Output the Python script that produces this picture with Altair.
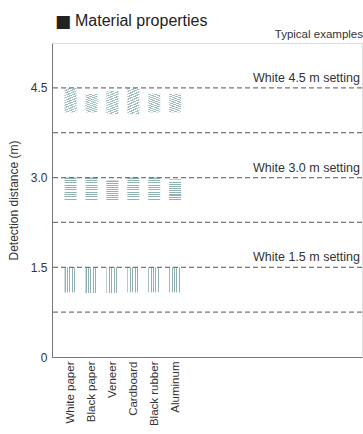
import altair as alt
import pandas as pd

materials = ["White paper", "Black paper", "Veneer", "Cardboard", "Black rubber", "Aluminum"]
settings = [4.5, 3.0, 1.5]
setting_labels = ["White 4.5 m setting", "White 3.0 m setting", "White 1.5 m setting"]
far_45 = [4.50, 4.40, 4.45, 4.50, 4.40, 4.40]
near_45 = [4.09, 4.09, 4.06, 4.06, 4.09, 4.09]
far_30 = [3.00, 3.00, 2.95, 3.00, 3.00, 2.97]
near_30 = [2.61, 2.61, 2.61, 2.61, 2.61, 2.61]
far_15 = [1.50, 1.50, 1.50, 1.50, 1.50, 1.50]
near_15 = [1.08, 1.07, 1.07, 1.08, 1.08, 1.08]
gridlines = [0.75, 1.5, 2.25, 3.0, 3.75, 4.5]
y_ticks = [0, 1.5, 3.0, 4.5]
title_mark = "■"
title_text = "Material properties"
note_text = "Typical examples"

rows = []
for s, far, near in [(4.5, far_45, near_45), (3.0, far_30, near_30), (1.5, far_15, near_15)]:
    for i, m in enumerate(materials):
        rows.append({"material": m, "idx": i, "setting": s, "far": far[i], "near": near[i]})
df = pd.DataFrame(rows)
lab_df = pd.DataFrame({"setting": settings, "label": setting_labels})
grid_df = pd.DataFrame({"v": gridlines})

BG = "#ffffff"


def stripes(n, frac, color, **coords):
    stops = []
    for k in range(n):
        a = k / n
        b = (k + frac) / n
        c = (k + 1) / n
        stops += [alt.GradientStop(offset=a, color=color), alt.GradientStop(offset=b, color=color),
                  alt.GradientStop(offset=b, color=BG), alt.GradientStop(offset=c, color=BG)]
    return alt.LinearGradient(gradient="linear", stops=stops, **coords)


W, H = 310, 314
xscale = alt.Scale(domain=[-0.65, 13.7], nice=False, zero=False)
yscale = alt.Scale(domain=[0, 5.25], nice=False)
label_expr = "[" + ",".join("'%s'" % m for m in materials) + "][datum.value]"

xenc = alt.X("idx:Q", scale=xscale, title=None,
             axis=alt.Axis(values=list(range(len(materials))), labelExpr=label_expr, labelAngle=-90,
                           grid=False, ticks=False, labelPadding=4, labelFontSize=11.5,
                           labelColor="#333", domainColor="#777", labelFont="Liberation Sans"))
yenc = alt.Y("far:Q", scale=yscale, title="Detection distance (m)",
             axis=alt.Axis(values=y_ticks, grid=False, ticks=False, labelPadding=5,
                           labelExpr="datum.value == 0 ? '0' : format(datum.value, '.1f')",
                           labelFontSize=12, labelColor="#333", titleFontSize=12, titleColor="#333",
                           titleFontWeight="normal", titlePadding=10, domainColor="#777",
                           labelFont="Liberation Sans", titleFont="Liberation Sans"))

base = alt.Chart(df)
bars45 = base.transform_filter("datum.setting == 4.5").mark_bar(
    width=12, fill=stripes(20, 0.5, "#a3c0c0", x1=1, y1=0, x2=0, y2=1)).encode(x=xenc, y=yenc, y2="near:Q")
bars30 = base.transform_filter("datum.setting == 3").mark_bar(
    width=12, fill=stripes(10, 0.5, "#8fb1b1", x1=0, y1=0, x2=0, y2=1)).encode(x=xenc, y=yenc, y2="near:Q")
bars15 = base.transform_filter("datum.setting == 1.5").mark_bar(
    width=12, fill=stripes(5, 0.45, "#8fb1b1", x1=0, y1=0, x2=1, y2=0)).encode(x=xenc, y=yenc, y2="near:Q")

grid = alt.Chart(grid_df).mark_rule(color="#777", strokeWidth=1.2, strokeDash=[5, 3]).encode(
    y=alt.Y("v:Q", scale=yscale))

labels = alt.Chart(lab_df).mark_text(align="right", baseline="bottom", dy=-3, fontSize=12.5,
                                     color="#333", font="Liberation Sans").encode(
    x=alt.value(W - 2), y=alt.Y("setting:Q", scale=yscale), text="label:N")

typical = alt.Chart(pd.DataFrame({"t": [note_text]})).mark_text(
    align="right", baseline="bottom", fontSize=11.5, color="#333", font="Liberation Sans").encode(
    x=alt.value(W + 1), y=alt.value(-3), text="t:N")

square = alt.Chart(pd.DataFrame({"t": [title_mark]})).mark_text(
    align="left", baseline="alphabetic", fontSize=17, color="#222", font="DejaVu Sans").encode(
    x=alt.value(3), y=alt.value(-16), text="t:N")

title = alt.Chart(pd.DataFrame({"t": [title_text]})).mark_text(
    align="left", baseline="alphabetic", fontSize=16, color="#222", font="Liberation Sans").encode(
    x=alt.value(23), y=alt.value(-17), text="t:N")

chart = alt.layer(bars45, bars30, bars15, grid, labels, typical, square, title).properties(
    width=W, height=H,
    padding={"left": 52, "top": 43, "right": 1, "bottom": 77},
    autosize="none",
).configure_view(stroke="#777", strokeWidth=1.2).configure(background="white")

chart.save("out.html", embed_options={"renderer": "svg", "actions": False})
